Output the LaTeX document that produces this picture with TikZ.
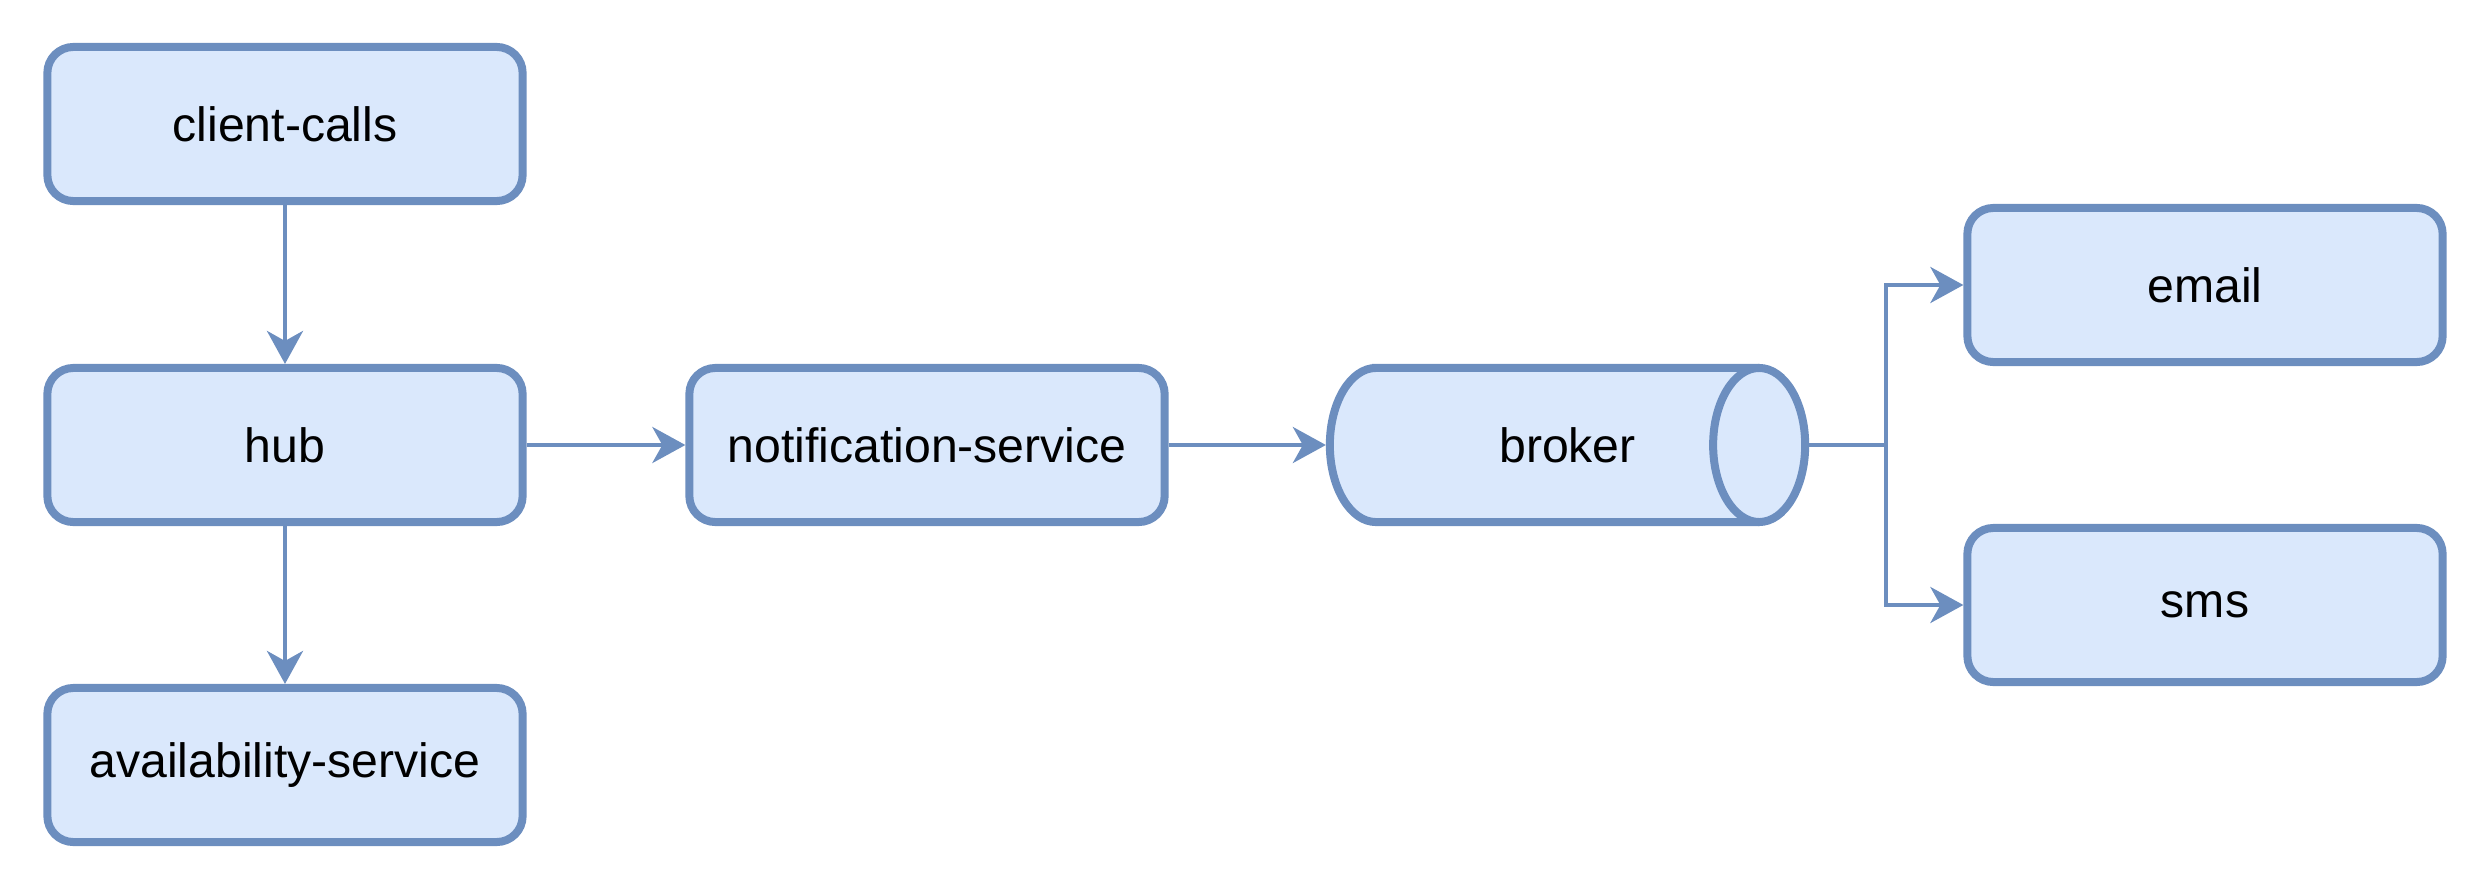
\documentclass[tikz,border=0pt]{standalone}
\usepackage{fontspec}
\setmainfont{Liberation Sans}
\usetikzlibrary{arrows.meta,calc}
\definecolor{strokeblue}{HTML}{6C8EBF}
\definecolor{fillblue}{HTML}{DAE8FC}
\begin{document}
\begin{tikzpicture}[x=0.01cm,y=0.01cm,
  box/.style={draw=strokeblue,fill=fillblue,line width=0.08cm,rounded corners=0.26cm,
    minimum width=4.75cm,minimum height=1.54cm,inner sep=0pt,
    font=\fontsize{13.7}{16}\selectfont},
  conn/.style={draw=strokeblue,line width=0.04cm,
    -{Stealth[length=0.33cm,width=0.36cm,inset=0.1cm]}},
  plain/.style={draw=strokeblue,line width=0.04cm}]
\useasboundingbox (0,0) rectangle (2488,-888);
\node[box] (client) at (285,-124) {client-calls};
\node[box] (hub) at (285,-445) {hub};
\node[box] (avail) at (285,-765) {availability-service};
\node[box] (notif) at (927,-445) {notification-service};
\node[box] (email) at (2205,-285) {email};
\node[box] (sms) at (2205,-605) {sms};
% broker cylinder
\node[minimum width=4.83cm,minimum height=1.62cm,inner sep=0pt,outer sep=0pt] (broker) at (1567.5,-445) {};
\draw[draw=strokeblue,fill=fillblue,line width=0.08cm]
  ($(broker.north west)+(50,-4)$) -- ($(broker.north east)+(-50,-4)$)
  arc[start angle=90,end angle=-90,x radius=0.46cm,y radius=0.77cm]
  -- ($(broker.south west)+(50,4)$)
  arc[start angle=270,end angle=90,x radius=0.46cm,y radius=0.77cm] -- cycle;
\draw[draw=strokeblue,line width=0.08cm]
  ($(broker.north east)+(-50,-4)$)
  arc[start angle=90,end angle=270,x radius=0.46cm,y radius=0.77cm];
\node[font=\fontsize{13.7}{16}\selectfont] (brokerlabel) at (broker.center) {broker};
\coordinate (split) at (1886,-445);
\draw[conn] (client.south) -- (hub.north);
\draw[conn] (hub.south) -- (avail.north);
\draw[conn] (hub.east) -- (notif.west);
\draw[conn] (notif.east) -- (broker.west);
\draw[plain] (broker.east) -- (split);
\draw[conn] (split) |- (email.west);
\draw[conn] (split) |- (sms.west);
\end{tikzpicture}
\end{document}
